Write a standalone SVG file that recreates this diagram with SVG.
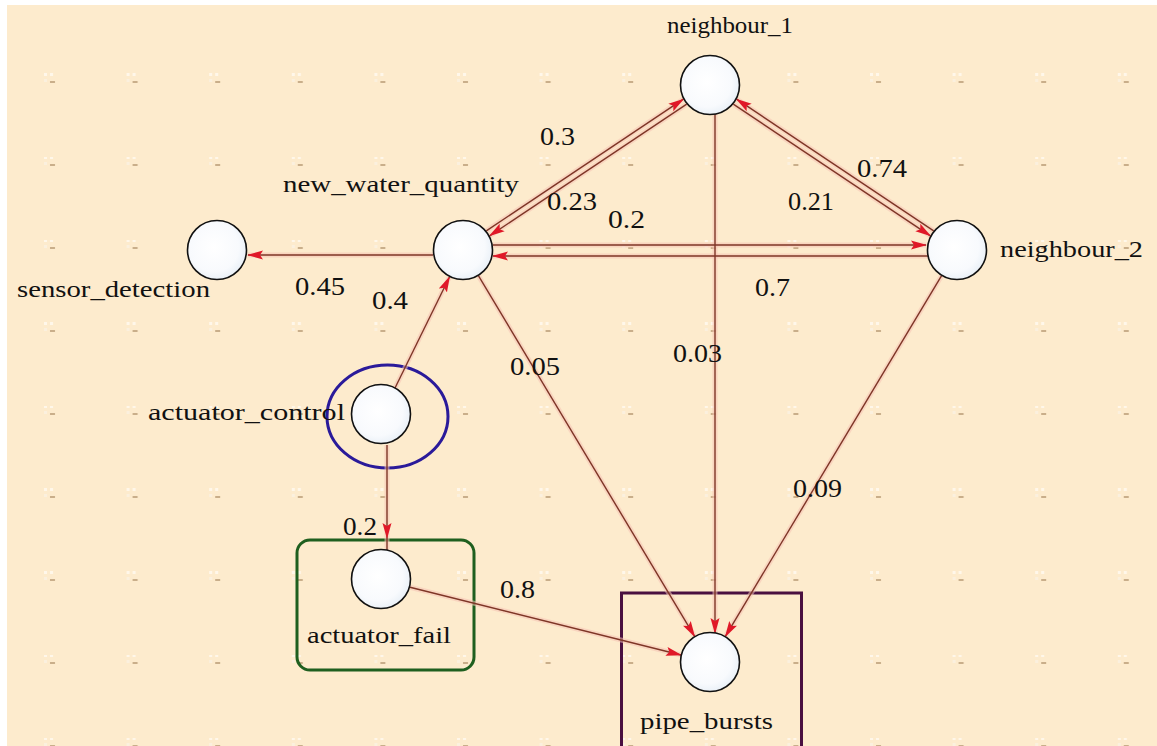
<svg xmlns="http://www.w3.org/2000/svg" width="1157" height="746" viewBox="0 0 1157 746">
<defs>
<style>
.lbl{font-family:"Liberation Serif","Times New Roman",serif;font-size:24px;fill:#111;}
.num{font-family:"Liberation Serif","Times New Roman",serif;font-size:26px;fill:#111;}
.node{fill:url(#ng);stroke:#111;stroke-width:1.6;}
.halo{stroke:#F6C2B4;stroke-width:5;fill:none;opacity:0.55;}
.edge{stroke:#7E3526;stroke-width:1.4;fill:none;}
</style>
<radialGradient id="ng" cx="0.45" cy="0.45" r="0.6">
<stop offset="0" stop-color="#FFFFFF"/>
<stop offset="0.7" stop-color="#F8FAFD"/>
<stop offset="1" stop-color="#E6EEF6"/>
</radialGradient>
<marker id="arr" viewBox="0 0 16 10" refX="15" refY="5" markerWidth="16" markerHeight="10" markerUnits="userSpaceOnUse" orient="auto">
<path d="M0,0.5 L16,5 L0,9.5 L3,5 Z" fill="#E01828"/>
</marker>
<pattern id="grid" x="44" y="73" width="82.6" height="83" patternUnits="userSpaceOnUse">
<rect x="0" y="0" width="3" height="3" fill="#FFF7EA"/>
<rect x="6" y="0" width="3" height="3" fill="#FFF7EA"/>
<rect x="0" y="6" width="3" height="3" fill="#FBF0DE"/>
<rect x="6" y="8" width="5" height="2" fill="#C9AE8A"/>
</pattern>
</defs>
<rect x="0" y="0" width="1157" height="746" fill="#FFFFFF"/>
<rect x="7" y="5" width="1150" height="741" fill="#FDEBCD"/>
<rect x="7" y="5" width="1150" height="741" fill="url(#grid)"/>

<g id="groups">
<ellipse id="ac-ring" cx="387.5" cy="416.5" rx="60.5" ry="51.5" fill="none" stroke="#2A1A9A" stroke-width="3"/>
<rect id="af-box" x="297" y="540" width="177" height="130" rx="13" fill="none" stroke="#1F5F1F" stroke-width="3"/>
<rect id="pb-box" x="621.5" y="593" width="180" height="160" fill="none" stroke="#4A1040" stroke-width="3"/>
</g>

<g id="connectors">
<g class="halos">
<line class="halo" x1="433" y1="255" x2="248" y2="255"/>
<line class="halo" x1="486.3" y1="230.8" x2="683.3" y2="99.2"/>
<line class="halo" x1="686.7" y1="104.2" x2="489.7" y2="235.8"/>
<line class="halo" x1="493" y1="245" x2="926" y2="245"/>
<line class="halo" x1="928" y1="256" x2="493" y2="256"/>
<line class="halo" x1="933.7" y1="230.8" x2="736.7" y2="99.2"/>
<line class="halo" x1="733.3" y1="104.2" x2="930.3" y2="235.8"/>
<line class="halo" x1="395" y1="388" x2="449.5" y2="277"/>
<line class="halo" x1="387" y1="445" x2="387" y2="550"/>
<line class="halo" x1="409" y1="587" x2="681" y2="655"/>
<line class="halo" x1="478.4" y1="275.7" x2="694.6" y2="636.3"/>
<line class="halo" x1="715" y1="114" x2="715" y2="633"/>
<line class="halo" x1="941.6" y1="275.7" x2="725.4" y2="636.3"/>
</g>
<line class="edge" x1="433" y1="255" x2="248" y2="255" marker-end="url(#arr)"/>
<line class="edge" x1="486.3" y1="230.8" x2="683.3" y2="99.2" marker-end="url(#arr)"/>
<line class="edge" x1="686.7" y1="104.2" x2="489.7" y2="235.8" marker-end="url(#arr)"/>
<line class="edge" x1="493" y1="245" x2="926" y2="245" marker-end="url(#arr)"/>
<line class="edge" x1="928" y1="256" x2="493" y2="256" marker-end="url(#arr)"/>
<line class="edge" x1="933.7" y1="230.8" x2="736.7" y2="99.2" marker-end="url(#arr)"/>
<line class="edge" x1="733.3" y1="104.2" x2="930.3" y2="235.8" marker-end="url(#arr)"/>
<line class="edge" x1="395" y1="388" x2="449.5" y2="277" marker-end="url(#arr)"/>
<line class="edge" x1="387" y1="445" x2="387" y2="538" marker-end="url(#arr)"/>
<line class="edge" x1="387" y1="538" x2="387" y2="550"/>
<line class="edge" x1="409" y1="587" x2="681" y2="655" marker-end="url(#arr)"/>
<line class="edge" x1="478.4" y1="275.7" x2="694.6" y2="636.3" marker-end="url(#arr)"/>
<line class="edge" x1="715" y1="114" x2="715" y2="633" marker-end="url(#arr)"/>
<line class="edge" x1="941.6" y1="275.7" x2="725.4" y2="636.3" marker-end="url(#arr)"/>
<g id="edge-labels">
<text class="num" x="540" y="145" textLength="35" lengthAdjust="spacingAndGlyphs">0.3</text>
<text class="num" x="547" y="210" textLength="50" lengthAdjust="spacingAndGlyphs">0.23</text>
<text class="num" x="608" y="228" textLength="37" lengthAdjust="spacingAndGlyphs">0.2</text>
<text class="num" x="788" y="210" textLength="46" lengthAdjust="spacingAndGlyphs">0.21</text>
<text class="num" x="857" y="177" textLength="50" lengthAdjust="spacingAndGlyphs">0.74</text>
<text class="num" x="295" y="295" textLength="50" lengthAdjust="spacingAndGlyphs">0.45</text>
<text class="num" x="755" y="296" textLength="35" lengthAdjust="spacingAndGlyphs">0.7</text>
<text class="num" x="372" y="309" textLength="36" lengthAdjust="spacingAndGlyphs">0.4</text>
<text class="num" x="510" y="375" textLength="50" lengthAdjust="spacingAndGlyphs">0.05</text>
<text class="num" x="673" y="362" textLength="49" lengthAdjust="spacingAndGlyphs">0.03</text>
<text class="num" x="793" y="497" textLength="49" lengthAdjust="spacingAndGlyphs">0.09</text>
<text class="num" x="343" y="535" textLength="34" lengthAdjust="spacingAndGlyphs">0.2</text>
<text class="num" x="500" y="598" textLength="35" lengthAdjust="spacingAndGlyphs">0.8</text>
</g>
</g>

<g id="neighbour_1">
<circle class="node" cx="710" cy="85" r="29.5"/>
<text class="lbl" x="667" y="33" textLength="126" lengthAdjust="spacingAndGlyphs">neighbour_1</text>
</g>
<g id="new_water_quantity">
<circle class="node" cx="463" cy="250" r="29.5"/>
<text class="lbl" x="283" y="192" textLength="236" lengthAdjust="spacingAndGlyphs">new_water_quantity</text>
</g>
<g id="sensor_detection">
<circle class="node" cx="217" cy="250" r="29.5"/>
<text class="lbl" x="17" y="297" textLength="193" lengthAdjust="spacingAndGlyphs">sensor_detection</text>
</g>
<g id="neighbour_2">
<circle class="node" cx="957" cy="250" r="29.5"/>
<text class="lbl" x="1000" y="257" textLength="143" lengthAdjust="spacingAndGlyphs">neighbour_2</text>
</g>
<g id="actuator_control">
<circle class="node" cx="381" cy="414" r="29.5"/>
<text class="lbl" x="148" y="420" textLength="197" lengthAdjust="spacingAndGlyphs">actuator_control</text>
</g>
<g id="actuator_fail">
<circle class="node" cx="381" cy="579" r="29.5"/>
<text class="lbl" x="307" y="643" textLength="144" lengthAdjust="spacingAndGlyphs">actuator_fail</text>
</g>
<g id="pipe_bursts">
<circle class="node" cx="710" cy="662" r="29.5"/>
<text class="lbl" x="640" y="729" textLength="133" lengthAdjust="spacingAndGlyphs">pipe_bursts</text>
</g>
</svg>
